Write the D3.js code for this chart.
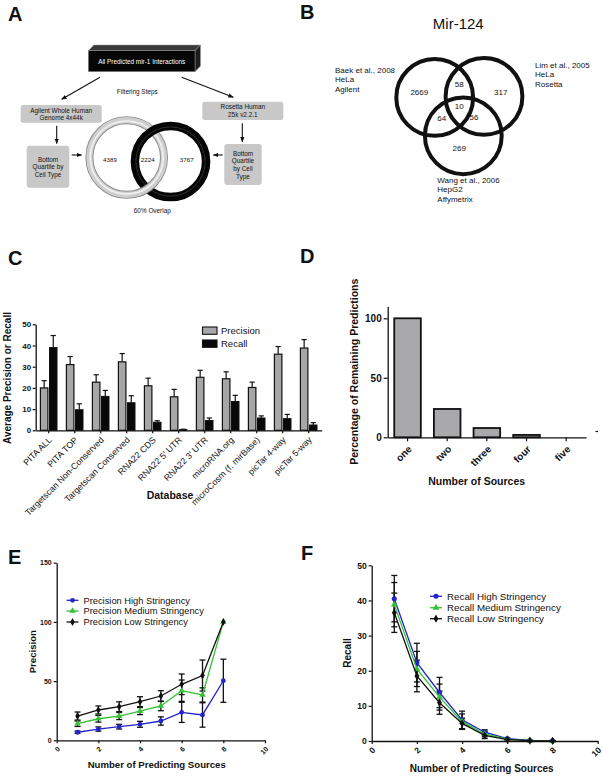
<!DOCTYPE html>
<html><head><meta charset="utf-8">
<script src="https://cdn.jsdelivr.net/npm/d3@7"></script>
<style>
html,body{margin:0;padding:0;background:#fff;}
svg{display:block;}
</style></head><body>
<svg id="fig" width="603" height="777"></svg>
<script>
// ---------- DATA ----------
// Panel A
const boxTitleA = "All Predicted mir-1 Interactions";
const platformsA = [["Agilent Whole Human","Genome 4x44k"],["Rosetta Human","25k v2.2.1"]];
const ringCountsA = ["4389","2224","3767"];
// Panel B
const vennTitleB = "Mir-124";
const vennSourcesB = [["Baek et al., 2008","HeLa","Agilent"],["Lim et al., 2005","HeLa","Rosetta"],["Wang et al., 2006","HepG2","Affymetrix"]];
const vennCountsB = [2669, 58, 317, 10, 64, 56, 269]; // A only, AB, B only, ABC, AC, BC, C only
// Panel C
const databases = ["PITA ALL","PITA TOP","Targetscan Non-Conserved","Targetscan Conserved","RNA22 CDS","RNA22 5' UTR","RNA22 3' UTR","microRNA.org","microCosm (f. mirBase)","picTar 4-way","picTar 5-way"];
const precisionC = [20, 31, 22.7, 32.3, 21, 15.8, 25, 24.3, 20.2, 35.9, 38.8];
const precisionErrC = [3.4, 3.8, 3.5, 3.9, 3.6, 3.5, 3.3, 3.3, 2.5, 3.6, 4.0];
const recallC = [39, 9.7, 16, 13, 3.8, 0.3, 4.6, 13.6, 5.8, 5.5, 2.5];
const recallErrC = [5.7, 2.8, 2.8, 3.3, 0.7, 0.2, 1.2, 2.9, 1.0, 2.0, 1.1];
const yTicksC = [0,10,20,30,40,50];
// Panel D
const sourceCounts = ["one","two","three","four","five"];
const remainingPct = [100, 23.8, 7.8, 2, 0];
const yTicksD = [0,50,100];
// Panel E
const nSources = [1,2,3,4,5,6,7,8];
const precHigh = [6.8, 9.5, 11.5, 13.5, 16.3, 23.6, 21.4, 50.3];
const precHighErr = [1.0, 1.8, 2.0, 2.5, 3.5, 8.5, 10.3, 18.2];
const precMed = [14, 18.2, 20.5, 24.7, 29, 41.9, 38.3, 100];
const precMedErr = [2.3, 2.8, 3.0, 3.0, 4.0, 9.0, 6.0, 0];
const precLow = [20.5, 25.6, 28.4, 32.6, 37.4, 47.3, 54.7, 100];
const precLowErr = [3.4, 3.4, 4.1, 4.2, 4.5, 8.7, 13.1, 0];
const yTicksE = [0,50,100,150];
// Panel F
const recHigh = [40.5, 22.3, 13.8, 6.0, 2.5, 0.7, 0.15, 0.1];
const recHighErr = [6.6, 5.5, 4.3, 2.5, 0.7, 0.2, 0.05, 0.05];
const recMed = [38.8, 20.5, 12.5, 5.5, 2.0, 0.5, 0.1, 0.05];
const recMedErr = [6.3, 5.0, 3.7, 2.2, 0.8, 0.2, 0.05, 0.03];
const recLow = [36.5, 18.5, 10.9, 5.0, 1.6, 0.4, 0.1, 0.05];
const recLowErr = [5.6, 4.5, 3.3, 1.5, 0.9, 0.2, 0.05, 0.03];
const yTicksF = [0,10,20,30,40,50];
const xTicksEF = [0,2,4,6,8,10];

// ---------- DRAWING ----------
const FONT = '"Liberation Sans", Arial, Helvetica, sans-serif';
const INK = "#111";
const BLUE = "#2323cc", GREEN = "#34c234";
const svg = d3.select("#fig").attr("font-family", FONT);

function txt(g, x, y, s, size, o = {}) {
  return g.append("text").attr("x", x).attr("y", y).attr("font-size", size)
    .attr("text-anchor", o.anchor || "start").attr("font-weight", o.weight || "normal")
    .attr("fill", o.fill || INK).text(s);
}
function styleAxis(g, size, bold) {
  g.attr("font-family", FONT);
  g.select(".domain").attr("stroke", INK).attr("stroke-width", 1.3);
  g.selectAll(".tick line").attr("stroke", INK).attr("stroke-width", 1.2);
  g.selectAll(".tick text").attr("font-size", size).attr("font-weight", bold ? "bold" : "normal").attr("fill", INK);
}

// panel letters
[["A",8,20.5],["B",300,19],["C",8,265],["D",300,263],["E",8,564],["F",301,560]]
  .forEach(([t,x,y]) => txt(svg, x, y, t, 20, {weight:"bold"}));

const defs = svg.append("defs");
defs.append("marker").attr("id","arr").attr("viewBox","0 0 10 10").attr("refX",9).attr("refY",5)
  .attr("markerWidth",5).attr("markerHeight",5).attr("orient","auto")
  .append("path").attr("d","M0,1L10,5L0,9Z").attr("fill",INK);

// ===== Panel A =====
const gA = svg.append("g");
gA.append("polygon").attr("points","88.3,50.7 93.8,45 200.5,45 195,50.7").attr("fill","#3a3a3a").attr("stroke","#999").attr("stroke-width",0.5);
gA.append("polygon").attr("points","195,50.7 200.5,45 200.5,66 195,71.7").attr("fill","#1c1c1c").attr("stroke","#999").attr("stroke-width",0.5);
gA.append("rect").attr("x",88.3).attr("y",50.7).attr("width",106.7).attr("height",21).attr("fill","#060606").attr("stroke","#999").attr("stroke-width",0.5);
txt(gA, 141.7, 64.3, boxTitleA, 6.4, {anchor:"middle", fill:"#fff"});
[[100,77.3,61.7,99.3],[181.7,77.3,233.3,97.3],[56.7,125.7,56.7,143.5],[242.3,123.3,242.3,141.8],[71.7,155,81.7,155],[222.7,155,213.3,155]]
  .forEach(([x1,y1,x2,y2]) => gA.append("line").attr("x1",x1).attr("y1",y1).attr("x2",x2).attr("y2",y2)
    .attr("stroke",INK).attr("stroke-width",1.1).attr("marker-end","url(#arr)"));
txt(gA, 137.3, 93.8, "Filtering Steps", 6.4, {anchor:"middle"});
const platBoxes = [{x:20.7,y:105,w:81,h:17.7},{x:202.3,y:101.7,w:81,h:18.3}];
platBoxes.forEach((b,i) => {
  gA.append("rect").attr("x",b.x).attr("y",b.y).attr("width",b.w).attr("height",b.h).attr("rx",2.5).attr("fill","#c8c8c8");
  platformsA[i].forEach((l,j) => txt(gA, b.x + b.w/2, b.y + 7.6 + j*7.6, l, 6.4, {anchor:"middle"}));
});
const qBoxes = [{x:26.7,y:145.7,w:42.6,h:42,lines:["Bottom","Quartile by","Cell Type"],y0:161.5},
                {x:224.3,y:144,w:37.4,h:41,lines:["Bottom","Quartile","by Cell","Type"],y0:155.5}];
qBoxes.forEach(b => {
  gA.append("rect").attr("x",b.x).attr("y",b.y).attr("width",b.w).attr("height",b.h).attr("rx",3).attr("fill","#c8c8c8");
  b.lines.forEach((l,j) => txt(gA, b.x + b.w/2, b.y0 + j*7.7, l, 6.4, {anchor:"middle"}));
});
const c1 = {x:126.7, y:157.5, r:37.3}, c2 = {x:170.5, y:161.5, r:35.6};
function grayRing(sel) {
  sel.append("circle").attr("cx",c1.x).attr("cy",c1.y).attr("r",c1.r).attr("fill","none").attr("stroke","#8c8c8c").attr("stroke-width",8);
  sel.append("circle").attr("cx",c1.x).attr("cy",c1.y).attr("r",c1.r).attr("fill","none").attr("stroke","#cfcfcf").attr("stroke-width",6.2);
  sel.append("circle").attr("cx",c1.x).attr("cy",c1.y).attr("r",c1.r-0.8).attr("fill","none").attr("stroke","#f2f2f2").attr("stroke-width",1.6);
}
grayRing(gA);
gA.append("circle").attr("cx",c2.x).attr("cy",c2.y).attr("r",c2.r).attr("fill","none").attr("stroke","#050505").attr("stroke-width",8.5);
gA.append("circle").attr("cx",c2.x).attr("cy",c2.y).attr("r",c2.r-1).attr("fill","none").attr("stroke","#3a3a3a").attr("stroke-width",0.8);
{
  const dx = c2.x - c1.x, dy = c2.y - c1.y, d = Math.hypot(dx,dy);
  const th = Math.acos((d*d + c1.r*c1.r - c2.r*c2.r)/(2*d*c1.r));
  const base = Math.atan2(dx, -dy);
  const a = base + th;
  const clip = defs.append("clipPath").attr("id","lowcross");
  clip.append("path").attr("transform",`translate(${c1.x},${c1.y})`)
    .attr("d", d3.arc()({innerRadius:c1.r-5, outerRadius:c1.r+5, startAngle:a-0.3, endAngle:a+0.3}));
  grayRing(gA.append("g").attr("clip-path","url(#lowcross)"));
}
[[110,161.5],[147.7,161.5],[186.7,161.5]].forEach(([x,y],i) => txt(gA, x, y, ringCountsA[i], 6.2, {anchor:"middle"}));
txt(gA, 152.3, 213, "60% Overlap", 6.4, {anchor:"middle"});

// ===== Panel B =====
const gB = svg.append("g");
txt(gB, 458.3, 28.6, vennTitleB, 15, {anchor:"middle"});
[[434.7,97.4],[484,96.4],[463.3,135.8]].forEach(([x,y]) =>
  gB.append("circle").attr("cx",x).attr("cy",y).attr("r",38.4).attr("fill","none").attr("stroke",INK).attr("stroke-width",4));
const srcPos = [[335,72.8],[535,67.8],[437.3,182.8]];
vennSourcesB.forEach((lines,i) => lines.forEach((l,j) => txt(gB, srcPos[i][0], srcPos[i][1] + j*9.6, l, 8)));
const cntPos = [[419.3,94.5],[459.3,87],[500.7,94.5],[459.3,108.8],[441.7,121],[474,119.5],[459.3,150.5]];
vennCountsB.forEach((v,i) => txt(gB, cntPos[i][0], cntPos[i][1], String(v), 8, {anchor:"middle"}));

// ===== Panel C =====
const gC = svg.append("g");
const xC = d3.scaleBand().domain(databases).range([35.7, 321.7]);
const yC = d3.scaleLinear().domain([0,50]).range([430.3, 324.3]);
const bw = 7.5;
const rowsC = databases.map((d,i) => ({d, p:precisionC[i], pe:precisionErrC[i], r:recallC[i], re:recallErrC[i]}));
function errUp(g, cx, v, e, y) {
  g.append("line").attr("x1",cx).attr("x2",cx).attr("y1",y(v)).attr("y2",y(v+e)).attr("stroke",INK).attr("stroke-width",1.2);
  g.append("line").attr("x1",cx-2.6).attr("x2",cx+2.6).attr("y1",y(v+e)).attr("y2",y(v+e)).attr("stroke",INK).attr("stroke-width",1.2);
}
rowsC.forEach(r => {
  const c = xC(r.d) + xC.bandwidth()/2;
  errUp(gC, c - 0.8 - bw/2, r.p, r.pe, yC);
  errUp(gC, c + 0.8 + bw/2, r.r, r.re, yC);
  gC.append("rect").attr("x", c - 0.8 - bw).attr("y", yC(r.p)).attr("width", bw).attr("height", yC(0) - yC(r.p))
    .attr("fill","#a6a6a9").attr("stroke",INK).attr("stroke-width",1.2);
  gC.append("rect").attr("x", c + 0.8).attr("y", yC(r.r)).attr("width", bw).attr("height", Math.max(0.8, yC(0) - yC(r.r)))
    .attr("fill","#080808").attr("stroke",INK).attr("stroke-width",1);
});
const axCy = gC.append("g").attr("transform","translate(35.7,0)").call(d3.axisLeft(yC).tickValues(yTicksC).tickSize(3).tickSizeOuter(0).tickPadding(1.5));
styleAxis(axCy, 8, true);
const axCx = gC.append("g").attr("transform","translate(0,430.3)").call(d3.axisBottom(xC).tickSize(3).tickSizeOuter(0));
styleAxis(axCx, 8.8, false);
axCx.selectAll(".tick text").attr("text-anchor","end").attr("x",0).attr("y",0).attr("dy","0.35em")
  .attr("transform","translate(1.5,8) rotate(-45)");
txt(gC, 170, 498.5, "Database", 10.5, {anchor:"middle", weight:"bold"});
gC.append("text").attr("transform","translate(10.8,378) rotate(-90)").attr("text-anchor","middle")
  .attr("font-size",10).attr("font-weight","bold").attr("fill",INK).text("Average Precision or  Recall");
[["Precision","#a6a6a9",327],["Recall","#080808",340]].forEach(([l,f,y]) => {
  gC.append("rect").attr("x",202.5).attr("y",y).attr("width",14.5).attr("height",7.3).attr("fill",f).attr("stroke",INK).attr("stroke-width",1.1);
  txt(gC, 221, y + 7, l, 9.5);
});

// ===== Panel D =====
const gD = svg.append("g");
const xD = d3.scaleBand().domain(sourceCounts).range([387.7, 586]).paddingInner(0.33).paddingOuter(0.165);
const yD = d3.scaleLinear().domain([0,110]).range([437.3, 306.4]);
sourceCounts.forEach((s,i) => {
  if (!(remainingPct[i] > 0)) return;
  gD.append("rect").attr("x", xD(s)).attr("y", yD(remainingPct[i])).attr("width", xD.bandwidth())
    .attr("height", yD(0) - yD(remainingPct[i])).attr("fill","#a9a9ac").attr("stroke",INK).attr("stroke-width",1.8);
});
const axDy = gD.append("g").attr("transform","translate(387.7,0)").call(d3.axisLeft(yD).tickValues(yTicksD).tickSize(4).tickSizeOuter(0).tickPadding(2));
styleAxis(axDy, 10, true);
const axDx = gD.append("g").attr("transform","translate(0,437.3)").call(d3.axisBottom(xD).tickSize(4).tickSizeOuter(0));
styleAxis(axDx, 10, true);
axDx.selectAll(".tick text").attr("text-anchor","end").attr("x",0).attr("y",0).attr("dy","0.35em")
  .attr("transform","translate(2.5,10) rotate(-45)");
txt(gD, 476.7, 484.5, "Number of Sources", 10.5, {anchor:"middle", weight:"bold"});
gD.append("text").attr("transform","translate(357.5,371.7) rotate(-90)").attr("text-anchor","middle")
  .attr("font-size",10.5).attr("font-weight","bold").attr("fill",INK).text("Percentage of Remaining Predictions");
gD.append("line").attr("x1",595.5).attr("x2",598).attr("y1",431.5).attr("y2",431.5).attr("stroke",INK).attr("stroke-width",1.2);

// ===== Panels E & F =====
function linePanel(cfg) {
  const g = svg.append("g");
  const x = d3.scaleLinear().domain([0,10]).range(cfg.xr);
  const y = d3.scaleLinear().domain(cfg.yd).range(cfg.yr);
  cfg.series.forEach(s => s.values.forEach((v,i) => {
    const e = s.err[i]; if (!(e > 0)) return;
    const cx = x(nSources[i]);
    g.append("line").attr("x1",cx).attr("x2",cx).attr("y1",y(Math.max(0,v-e))).attr("y2",y(v+e)).attr("stroke",INK).attr("stroke-width",1.3);
    [v+e, v-e].forEach(t => { if (t >= 0) g.append("line").attr("x1",cx-3).attr("x2",cx+3).attr("y1",y(t)).attr("y2",y(t)).attr("stroke",INK).attr("stroke-width",1.3); });
  }));
  const ln = d3.line().x((d,i) => x(nSources[i])).y(d => y(d));
  cfg.series.forEach(s => {
    g.append("path").attr("d", ln(s.values)).attr("fill","none").attr("stroke",s.color).attr("stroke-width",1.3);
    s.values.forEach((v,i) => g.append("path").attr("d", d3.symbol().type(s.sym).size(s.size)())
      .attr("transform",`translate(${x(nSources[i])},${y(v)})`).attr("fill",s.color));
  });
  const ay = g.append("g").attr("transform",`translate(${cfg.xr[0]},0)`).call(d3.axisLeft(y).tickValues(cfg.yt).tickSize(3).tickSizeOuter(0).tickPadding(2));
  styleAxis(ay, cfg.tf, true);
  const ax = g.append("g").attr("transform",`translate(0,${cfg.yr[0]})`).call(d3.axisBottom(x).tickValues(xTicksEF).tickSize(3).tickSizeOuter(0));
  styleAxis(ax, cfg.tf, true);
  ax.selectAll(".tick text").attr("text-anchor","end").attr("x",0).attr("y",0).attr("dy","0.35em")
    .attr("transform","translate(1.5,7.5) rotate(-45)");
  cfg.series.forEach((s,i) => {
    const ly = cfg.legY[i];
    g.append("line").attr("x1",cfg.legX).attr("x2",cfg.legX+12).attr("y1",ly).attr("y2",ly).attr("stroke",s.color).attr("stroke-width",1.3);
    g.append("path").attr("d", d3.symbol().type(s.sym).size(s.size)()).attr("transform",`translate(${cfg.legX+6},${ly})`).attr("fill",s.color);
    txt(g, cfg.legX + 17, ly + cfg.lf*0.36, s.name, cfg.lf);
  });
  txt(g, cfg.xt[0], cfg.xt[1], "Number of Predicting  Sources", cfg.af, {anchor:"middle", weight:"bold"});
  g.append("text").attr("transform",`translate(${cfg.yl[0]},${cfg.yl[1]}) rotate(-90)`).attr("text-anchor","middle")
    .attr("font-size",cfg.af).attr("font-weight","bold").attr("fill",INK).text(cfg.ylab);
}
linePanel({
  xr:[56.7,265], yd:[0,150], yr:[740.3,562.7], yt:yTicksE, tf:7, lf:9.3, af:9.6,
  legX:66.5, legY:[600.3,611,622], xt:[156.7,767.5], yl:[36,651.7], ylab:"Precision",
  series:[
    {name:"Precision High Stringency", values:precHigh, err:precHighErr, color:BLUE, sym:d3.symbolCircle, size:18},
    {name:"Precision Medium Stringency", values:precMed, err:precMedErr, color:GREEN, sym:d3.symbolTriangle, size:18},
    {name:"Precision Low Stringency", values:precLow, err:precLowErr, color:INK, sym:d3.symbolDiamond, size:18}
  ]
});
linePanel({
  xr:[371.7,597.7], yd:[0,50], yr:[741,565.3], yt:yTicksF, tf:8.5, lf:9.8, af:10,
  legX:430, legY:[596.3,607.7,618.7], xt:[481.7,771.5], yl:[350.5,653], ylab:"Recall",
  series:[
    {name:"Recall High Stringency", values:recHigh, err:recHighErr, color:BLUE, sym:d3.symbolCircle, size:20},
    {name:"Recall Medium Stringency", values:recMed, err:recMedErr, color:GREEN, sym:d3.symbolTriangle, size:20},
    {name:"Recall Low Stringency", values:recLow, err:recLowErr, color:INK, sym:d3.symbolDiamond, size:20}
  ]
});
</script>
</body></html>
